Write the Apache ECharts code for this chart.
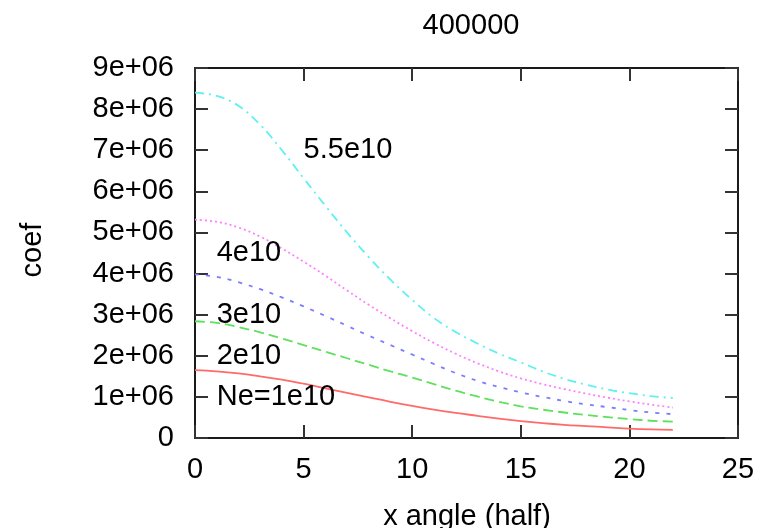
<!DOCTYPE html>
<html>
<head>
<meta charset="utf-8">
<script src="https://cdn.jsdelivr.net/npm/echarts@6/dist/echarts.min.js"></script>
<style>
  html, body { margin: 0; padding: 0; background: #fff; }
  #chart { width: 765px; height: 528px; }
</style>
</head>
<body>
<div id="chart"></div>
<script>
// Sample positions along the x angle (half), 0..22
const xAngle = [0,1,2,3,4,5,6,7,8,9,10,11,12,13,14,15,16,17,18,19,20,21,22];

// Coefficient curves for each electron density Ne (values in units of 1e6)
const coefNe1e10 = [1.65,1.62,1.57,1.50,1.42,1.32,1.21,1.10,0.99,0.88,0.78,0.69,0.61,0.54,0.47,0.41,0.36,0.32,0.29,0.26,0.23,0.21,0.20];
const coefNe2e10 = [2.84,2.80,2.70,2.57,2.42,2.26,2.10,1.94,1.78,1.62,1.47,1.31,1.15,1.01,0.88,0.77,0.69,0.62,0.56,0.51,0.46,0.42,0.40];
const coefNe3e10 = [3.98,3.92,3.79,3.62,3.42,3.20,2.97,2.73,2.49,2.26,2.03,1.80,1.58,1.39,1.24,1.11,1.00,0.90,0.82,0.75,0.68,0.62,0.58];
const coefNe4e10 = [5.31,5.26,5.12,4.90,4.61,4.29,3.95,3.59,3.24,2.91,2.60,2.31,2.05,1.82,1.62,1.45,1.31,1.19,1.08,0.98,0.89,0.81,0.74];
const coefNe55e10 = [8.40,8.32,8.08,7.62,7.00,6.32,5.65,5.00,4.40,3.85,3.36,2.92,2.58,2.30,2.05,1.84,1.62,1.44,1.30,1.18,1.09,1.02,0.97];

// Curve annotations: text and anchor point (x, coef in 1e6)
const curveLabels = ['Ne=1e10', '2e10', '3e10', '4e10', '5.5e10'];
const curveLabelX = [1, 1, 1, 1, 5];
const curveLabelY = [1.0, 2.0, 3.0, 4.5, 7.0];

const xTicks = { min: 0, max: 25, interval: 5 };
const yTicks = { min: 0, max: 9, interval: 1 };  // in 1e6

const chartTitle = '400000';
const xName = 'x angle (half)';
const yName = 'coef';

const FONT = 'Liberation Sans';
const FS = 29;
const SCALE = 1e6;

function pairs(ys) {
  return xAngle.map((x, i) => [x, ys[i] * SCALE]);
}

function fmtY(v) {
  if (v === 0) return '0';
  const m = Math.round(v / SCALE);
  return m + 'e+06';
}

const frame = { show: true, onZero: false, lineStyle: { color: '#1a1a1a', width: 2 } };
const inTicks = { show: true, inside: true, length: 13, lineStyle: { color: '#333', width: 2 } };

function mkLine(name, ys, color, dash) {
  return {
    name: name,
    type: 'line',
    data: pairs(ys),
    smooth: 0.4,
    showSymbol: false,
    symbol: 'none',
    lineStyle: { color: color, width: 1.8, type: dash },
    z: 3
  };
}

const chart = echarts.init(document.getElementById('chart'), null, { renderer: 'canvas' });

chart.setOption({
  animation: false,
  backgroundColor: '#ffffff',
  textStyle: { fontFamily: FONT },
  title: {
    text: chartTitle,
    left: 466, top: 6,
    textAlign: 'center',
    textStyle: { fontFamily: FONT, fontSize: FS, fontWeight: 'normal', color: '#000' }
  },
  grid: { left: 195, right: 27, top: 68, bottom: 90, containLabel: false },
  xAxis: [
    {
      type: 'value', position: 'bottom',
      min: xTicks.min, max: xTicks.max, interval: xTicks.interval,
      axisLine: frame, axisTick: inTicks,
      splitLine: { show: false },
      axisLabel: { margin: 17, fontFamily: FONT, fontSize: FS, color: '#000' }
    },
    {
      type: 'value', position: 'top',
      min: xTicks.min, max: xTicks.max, interval: xTicks.interval,
      axisLine: frame, axisTick: inTicks,
      splitLine: { show: false }, axisLabel: { show: false }
    }
  ],
  yAxis: [
    {
      type: 'value', position: 'left',
      min: yTicks.min * SCALE, max: yTicks.max * SCALE, interval: yTicks.interval * SCALE,
      axisLine: frame, axisTick: inTicks,
      splitLine: { show: false },
      axisLabel: { margin: 21, fontFamily: FONT, fontSize: FS, color: '#000', formatter: fmtY }
    },
    {
      type: 'value', position: 'right',
      min: yTicks.min * SCALE, max: yTicks.max * SCALE, interval: yTicks.interval * SCALE,
      axisLine: frame, axisTick: inTicks,
      splitLine: { show: false }, axisLabel: { show: false }
    }
  ],
  series: [
    mkLine('Ne=1e10', coefNe1e10, '#ff6a6a', 'solid'),
    mkLine('2e10', coefNe2e10, '#5fe05f', [10, 5]),
    mkLine('3e10', coefNe3e10, '#7c7cff', [4, 7]),
    mkLine('4e10', coefNe4e10, '#ff80ff', [2, 3]),
    mkLine('5.5e10', coefNe55e10, '#5ff0f0', [9, 5, 2, 5]),
    {
      name: 'labels',
      type: 'scatter',
      symbolSize: 0,
      silent: true,
      data: curveLabels.map((t, i) => ({ value: [curveLabelX[i], curveLabelY[i] * SCALE], text: t })),
      label: {
        show: true,
        position: 'right',
        distance: 0,
        align: 'left',
        verticalAlign: 'middle',
        fontFamily: FONT,
        fontSize: FS,
        color: '#000',
        opacity: 1,
        formatter: p => p.data.text
      },
      z: 5
    }
  ],
  graphic: [
    {
      type: 'text',
      x: 33, y: 250,
      rotation: Math.PI / 2,
      style: { text: yName, font: FS + 'px "Liberation Sans"', fill: '#000', textAlign: 'center', textVerticalAlign: 'middle' }
    },
    {
      type: 'text',
      x: 467, y: 517,
      style: { text: xName, font: FS + 'px "Liberation Sans"', fill: '#000', textAlign: 'center', textVerticalAlign: 'middle' }
    }
  ]
});
</script>
</body>
</html>
